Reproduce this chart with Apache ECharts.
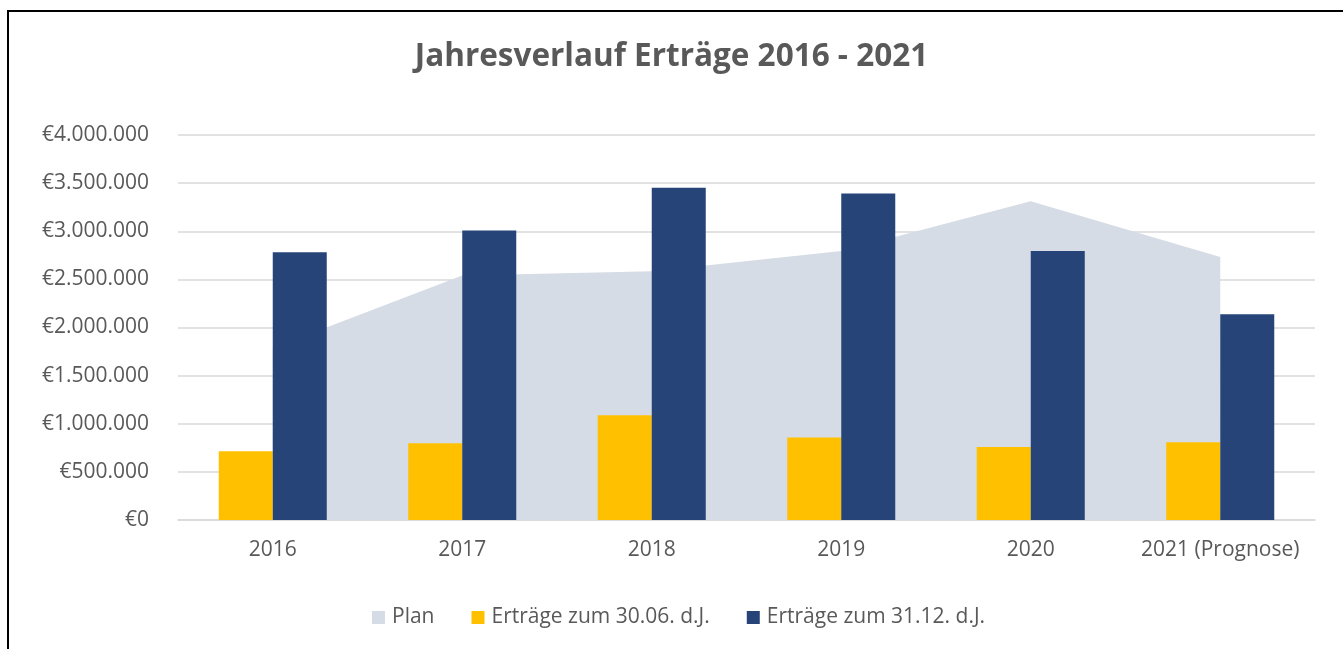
<!DOCTYPE html>
<html>
<head>
<meta charset="utf-8">
<script src="https://cdn.jsdelivr.net/npm/echarts@6/dist/echarts.min.js"></script>
<style>
  html, body { margin: 0; padding: 0; background: #fff; }
  #chart { width: 1343px; height: 649px; }
  .frame {
    position: absolute; left: 7px; top: 10px; right: -4px; bottom: -4px;
    border-left: 2px solid #000; border-top: 2px solid #000;
    pointer-events: none;
  }
</style>
</head>
<body>
<div id="chart"></div>
<div class="frame"></div>
<script>
const categories = ['2016', '2017', '2018', '2019', '2020', '2021 (Prognose)']
const plan = [1788000, 2540000, 2584000, 2795000, 3311000, 2732000]
const ertraegeJuni = [714000, 797000, 1088000, 856000, 758000, 807000]
const ertraegeDez = [2781000, 3007000, 3453000, 3391000, 2795000, 2137000]

const fontFamily = '"Open Sans", "Noto Sans", sans-serif'
const grey = '#595959'

const euro = (v) => '€' + String(v).replace(/\B(?=(\d{3})+(?!\d))/g, '.')

const chart = echarts.init(document.getElementById('chart'))

chart.setOption({
  animation: false,
  textStyle: { fontFamily },
  title: {
    text: 'Jahresverlauf Erträge 2016 - 2021',
    left: 'center',
    top: 36,
    textStyle: { fontSize: 31.5, fontWeight: 'bold', color: grey, fontFamily }
  },
  legend: {
    data: ['Plan', 'Erträge zum 30.06. d.J.', 'Erträge zum 31.12. d.J.'],
    left: 367,
    top: 602,
    icon: 'rect',
    itemWidth: 13,
    itemHeight: 13,
    itemGap: 37,
    textStyle: { fontSize: 21, color: grey, fontFamily, padding: [0, 0, 0, 2] }
  },
  grid: { left: 178, right: 28, top: 135, bottom: 129 },
  xAxis: {
    type: 'category',
    data: categories,
    axisLine: { lineStyle: { color: '#d9d9d9', width: 1.5 } },
    axisTick: { show: false },
    axisLabel: { fontSize: 21, color: grey, margin: 20, interval: 0 }
  },
  yAxis: {
    type: 'value',
    min: 0,
    max: 4000000,
    interval: 500000,
    axisLine: { show: false },
    axisTick: { show: false },
    splitLine: { lineStyle: { color: '#d9d9d9', width: 1.5 } },
    axisLabel: { fontSize: 21, color: grey, margin: 29, formatter: euro }
  },
  series: [
    {
      name: 'Plan',
      type: 'line',
      data: plan,
      symbol: 'none',
      lineStyle: { width: 0 },
      itemStyle: { color: '#d6dce5' },
      areaStyle: { color: '#d6dce5', opacity: 1 },
      z: 1
    },
    {
      name: 'Erträge zum 30.06. d.J.',
      type: 'bar',
      data: ertraegeJuni,
      itemStyle: { color: '#ffc000' },
      barGap: '0%',
      barCategoryGap: '43%',
      z: 2
    },
    {
      name: 'Erträge zum 31.12. d.J.',
      type: 'bar',
      data: ertraegeDez,
      itemStyle: { color: '#264478' },
      z: 2
    }
  ]
})
</script>
</body>
</html>
